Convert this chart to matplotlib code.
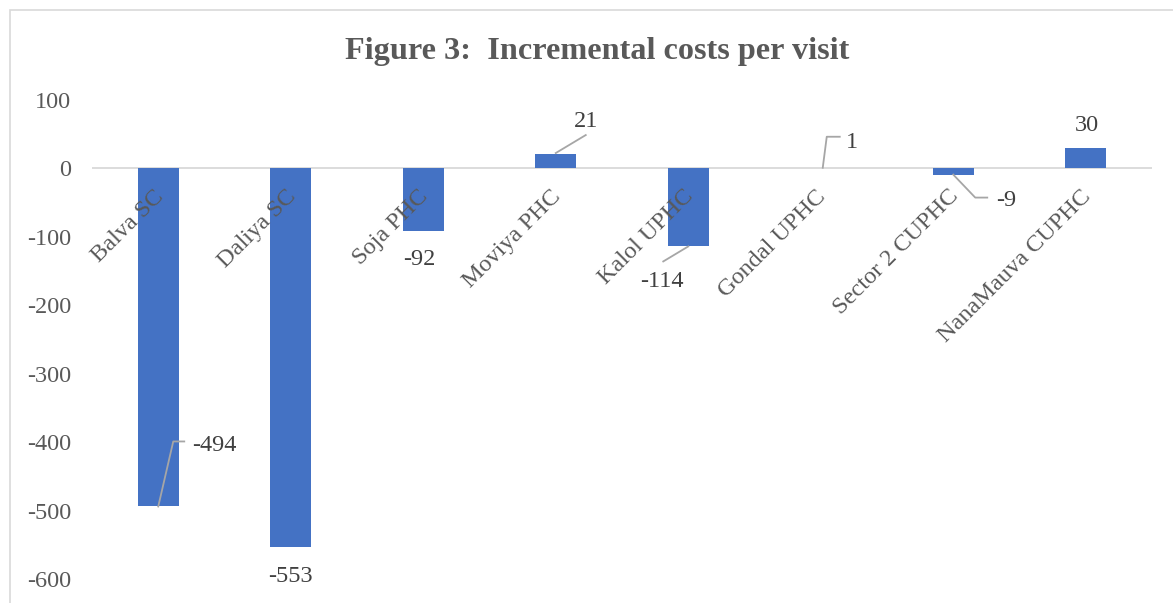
import matplotlib.pyplot as plt
from matplotlib.patches import Rectangle
from matplotlib.lines import Line2D
import matplotlib.transforms as mtransforms

# data
sites = ['Balva SC', 'Daliya SC', 'Soja PHC', 'Moviya PHC', 'Kalol UPHC',
         'Gondal UPHC', 'Sector 2 CUPHC', 'NanaMauva CUPHC']
costs = [-494, -553, -92, 21, -114, 1, -9, 30]
yticks = [100, 0, -100, -200, -300, -400, -500, -600]
title = 'Figure 3:  Incremental costs per visit'

# label placement (pixels from the bar end) and leader lines
label_off = [(56, 63), (0, -27), (-4, -26), (30, 35), (-26, -33), (31, 28), (53, -23), (1, 25)]
leaders = {0: [(0, 0), (15, 65), (26, 65)],
           3: [(0, 1), (30, 19)],
           4: [(0, 0), (-25, -15)],
           5: [(2, 0), (6, 31), (19, 31)],
           6: [(0, 0), (22, -23), (34, -23)]}

plt.rcParams['font.family'] = ['Liberation Serif', 'DejaVu Serif']
fig = plt.figure(figsize=(11.73, 6.03), dpi=100)
ax = fig.add_axes([92 / 1173, 1 - 579 / 603, 1060 / 1173, 479 / 603])

# chart border (cut off at right and bottom)
fig.patches.append(Rectangle((10 / 1173, -0.05), 1.2, 1 - 10 / 603 + 0.05,
                             transform=fig.transFigure, fill=False,
                             edgecolor='#d9d9d9', lw=1.2))

x = range(len(sites))
ax.bar(x, costs, width=0.31, color='#4472C4', zorder=2)
ax.axhline(0, color='#d9d9d9', lw=1.3, zorder=1)

ax.set_xlim(-0.5, len(sites) - 0.5)
ax.set_ylim(-600, 100)
ax.set_yticks(yticks)
ax.set_yticklabels([str(t) for t in yticks])
ax.tick_params(axis='y', length=0, pad=15, labelsize=17.5, labelcolor='#595959')
ax.set_xticks([])
for s in ax.spines.values():
    s.set_visible(False)

# category names, rotated, hanging just under the zero line
for i, name in enumerate(sites):
    ax.annotate(name, xy=(i, 0), xytext=(2, -25), textcoords='offset pixels',
                rotation=45, rotation_mode='anchor', ha='right', va='center',
                fontsize=17.5, color='#595959', zorder=3)

# value labels with leader lines
tr = ax.transData
for i, v in enumerate(costs):
    dx, dy = label_off[i]
    ax.annotate(str(v), xy=(i, v), xytext=(dx, dy), textcoords='offset pixels',
                ha='center', va='center_baseline', fontsize=17.5, color='#404040')
    if i in leaders:
        pts = leaders[i]
        xs, ys = [], []
        for px, py in pts:
            t = mtransforms.offset_copy(tr, fig=fig, x=px, y=py, units='dots')
            p = t.transform((i, v))
            xs.append(p[0])
            ys.append(p[1])
        fig.lines.append(Line2D(xs, ys, transform=None, color='#a6a6a6', lw=1.3))

fig.text(597 / 1173, 1 - 51 / 603, title, ha='center', va='center',
         fontsize=23.2, fontweight='bold', color='#595959')

fig.savefig('out.png', dpi=100)
